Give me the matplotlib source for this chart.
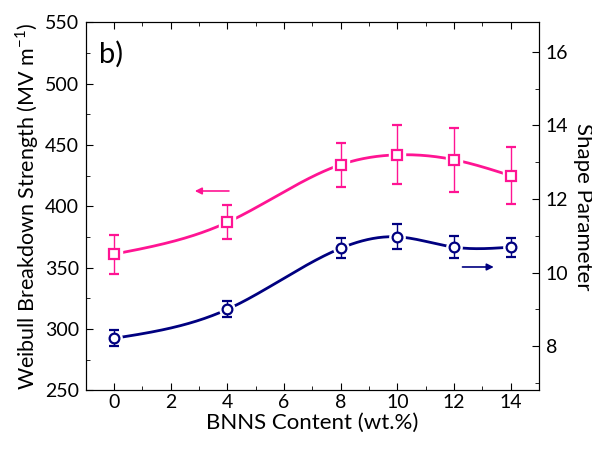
import numpy as np
import matplotlib.pyplot as plt
from matplotlib.ticker import MultipleLocator

# BNNS content (wt.%)
content = [0, 4, 8, 10, 12, 14]

# Weibull breakdown strength (MV/m), left axis
strength = [361, 387, 434, 442, 438, 425]
strength_err = [16, 14, 18, 24, 26, 23]

# shape parameter, right axis
shape = [8.21, 9.0, 10.66, 10.97, 10.69, 10.69]
shape_err = [0.22, 0.22, 0.27, 0.34, 0.29, 0.26]

pink = '#ff1493'
navy = '#000080'

plt.rcParams['font.family'] = ['Lato', 'DejaVu Sans']
plt.rcParams['mathtext.fontset'] = 'custom'
plt.rcParams['mathtext.rm'] = 'Lato'


def natural_spline(x, y, xs):
    # natural cubic spline through the points, for the smooth connecting line
    x = np.asarray(x, float)
    y = np.asarray(y, float)
    n = len(x)
    h = np.diff(x)
    A = np.zeros((n, n))
    r = np.zeros(n)
    A[0, 0] = A[-1, -1] = 1
    for i in range(1, n - 1):
        A[i, i - 1] = h[i - 1]
        A[i, i] = 2 * (h[i - 1] + h[i])
        A[i, i + 1] = h[i]
        r[i] = 6 * ((y[i + 1] - y[i]) / h[i] - (y[i] - y[i - 1]) / h[i - 1])
    M = np.linalg.solve(A, r)
    out = []
    for t in xs:
        i = min(max(np.searchsorted(x, t) - 1, 0), n - 2)
        a, b = x[i], x[i + 1]
        hi = b - a
        v = (M[i] * (b - t) ** 3 / (6 * hi) + M[i + 1] * (t - a) ** 3 / (6 * hi)
             + (y[i] / hi - M[i] * hi / 6) * (b - t)
             + (y[i + 1] / hi - M[i + 1] * hi / 6) * (t - a))
        out.append(v)
    return np.array(out)


fig = plt.figure(figsize=(5.92, 4.49), dpi=100)
ax = fig.add_axes([0.145, 0.131, 0.7655, 0.819])
ax2 = ax.twinx()

xs = np.linspace(content[0], content[-1], 300)

# left axis: breakdown strength
ax.plot(xs, natural_spline(content, strength, xs), color=pink, lw=2.0, zorder=2)
ax.plot(content, strength, 's', ms=11, mfc='white', mec='white', zorder=3)
ax.errorbar(content, strength, yerr=strength_err, fmt='s', ms=7, mfc='white',
            mec=pink, mew=1.6, ecolor=pink, elinewidth=1.0, capsize=3.5,
            capthick=1.0, zorder=4)

# right axis: shape parameter
ax2.plot(xs, natural_spline(content, shape, xs), color=navy, lw=2.0, zorder=2)
ax2.plot(content, shape, 'o', ms=11, mfc='white', mec='white', zorder=3)
ax2.errorbar(content, shape, yerr=shape_err, fmt='o', ms=7, mfc='white',
             mec=navy, mew=1.6, ecolor=navy, elinewidth=1.0, capsize=3.5,
             capthick=1.0, zorder=4)

ax.set_xlim(-1, 15)
ax.set_ylim(250, 550)
ax2.set_ylim(6.8, 16.8)

ax.xaxis.set_major_locator(MultipleLocator(2))
ax.xaxis.set_minor_locator(MultipleLocator(1))
ax.yaxis.set_major_locator(MultipleLocator(50))
ax.yaxis.set_minor_locator(MultipleLocator(25))
ax2.yaxis.set_major_locator(MultipleLocator(2))
ax2.yaxis.set_minor_locator(MultipleLocator(1))

ax.tick_params(which='both', direction='in', top=True, right=False,
               labelsize=14)
ax.tick_params(axis='x', pad=3)
ax.tick_params(axis='y', pad=5)
ax.tick_params(which='major', length=5)
ax.tick_params(which='minor', length=3)
ax2.tick_params(which='both', direction='in', labelsize=14, pad=5)
ax2.tick_params(which='major', length=5)
ax2.tick_params(which='minor', length=3)
ax2.set_yticks([8, 10, 12, 14, 16])

ax.set_xlabel('BNNS Content (wt.%)', fontsize=16, labelpad=1)
ax.set_ylabel('Weibull Breakdown Strength (MV m$^{-1}$)', fontsize=15.5, labelpad=3)
ax2.set_ylabel('Shape Parameter', fontsize=16, rotation=270, va='bottom',
               labelpad=3)

# direction arrows pointing at the matching axis
ax.annotate('', xy=(2.75, 412.5), xytext=(4.15, 412.5),
            arrowprops=dict(arrowstyle='-|>', color=pink, lw=1.2,
                            mutation_scale=10))
ax.annotate('', xy=(13.5, 350.5), xytext=(12.2, 350.5),
            arrowprops=dict(arrowstyle='-|>', color=navy, lw=1.2,
                            mutation_scale=10))

ax.text(0.03, 0.95, 'b)', transform=ax.transAxes, fontsize=21,
        va='top', ha='left')

fig.savefig('out.png', dpi=100)
